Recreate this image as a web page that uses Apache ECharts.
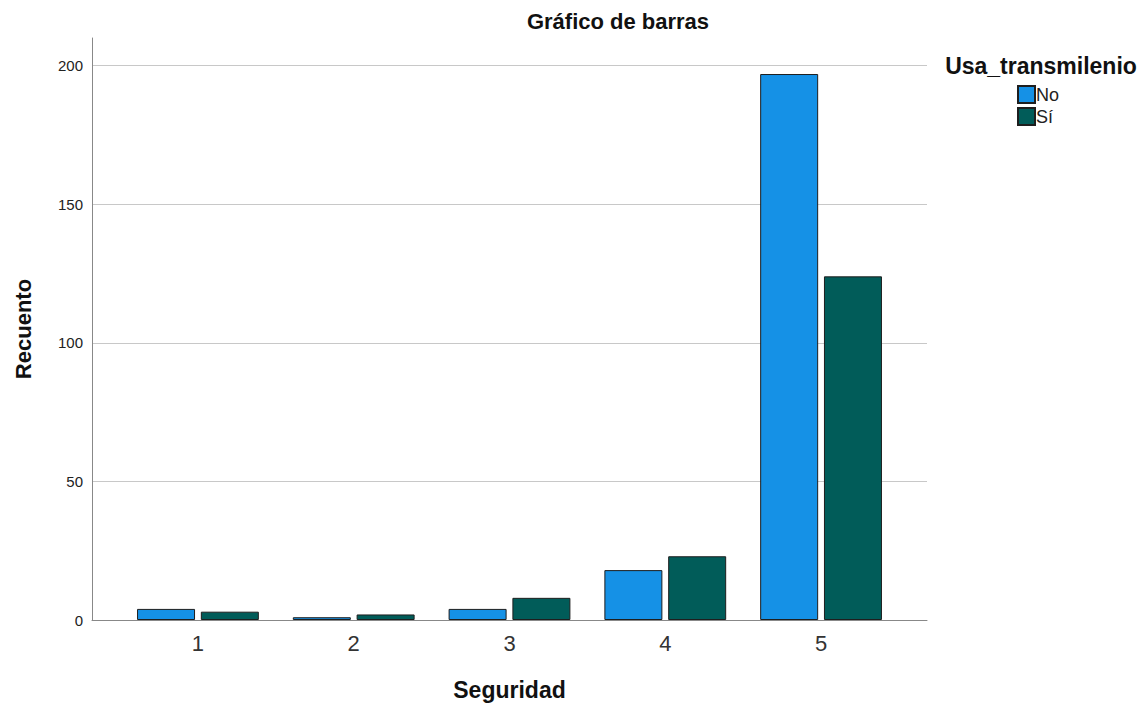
<!DOCTYPE html>
<html>
<head>
<meta charset="utf-8">
<script src="https://cdn.jsdelivr.net/npm/echarts@6/dist/echarts.min.js"></script>
<style>html,body{margin:0;padding:0;background:#fff}#c{width:1139px;height:710px}</style>
</head>
<body>
<div id="c"></div>
<script>
const categories = [1, 2, 3, 4, 5];
const seriesNames = ['No', 'Sí'];
const valuesNo = [4, 1, 4, 18, 197];
const valuesSi = [3, 2, 8, 23, 124];
const yTicks = [0, 50, 100, 150, 200];

const FONT = '"Liberation Sans", Arial, sans-serif';
const chart = echarts.init(document.getElementById('c'), null, {renderer: 'svg'});
chart.setOption({
  backgroundColor: '#ffffff',
  animation: false,
  title: [
    {text: 'Gráfico de barras', left: 613, top: 5, textAlign: 'center',
     textStyle: {fontFamily: FONT, fontSize: 22, fontWeight: 'bold', color: '#111'}},
    {text: 'Usa_transmilenio', left: 1036, top: 49, textAlign: 'center',
     textStyle: {fontFamily: FONT, fontSize: 23, fontWeight: 'bold', color: '#111'}}
  ],
  legend: {
    data: seriesNames, orient: 'vertical', left: 1012, top: 80,
    itemWidth: 17, itemHeight: 17, itemGap: 3, icon: 'rect',
    textStyle: {fontFamily: FONT, fontSize: 18, color: '#222', padding: [0,0,0,-4]}
  },
  grid: {left: 92, right: 212, top: 38, bottom: 90, containLabel: false},
  xAxis: {
    type: 'value', min: 0.32, max: 5.68,
    name: 'Seguridad', nameLocation: 'middle', nameGap: 58,
    nameTextStyle: {fontFamily: FONT, fontSize: 23, fontWeight: 'bold', color: '#111', verticalAlign: 'top'},
    axisLine: {show: true, lineStyle: {color: '#888', width: 1}},
    axisTick: {show: false},
    splitLine: {show: false},
    axisLabel: {customValues: categories, formatter: v => String(v), margin: 12,
      fontFamily: FONT, fontSize: 22, color: '#333'}
  },
  yAxis: {
    type: 'value', min: 0, max: 210, interval: 50,
    name: 'Recuento', nameLocation: 'middle', nameGap: 58,
    nameTextStyle: {fontFamily: FONT, fontSize: 22, fontWeight: 'bold', color: '#111'},
    axisLine: {show: true, lineStyle: {color: '#888', width: 1}},
    axisTick: {show: false},
    axisLabel: {customValues: yTicks, margin: 9, fontFamily: FONT, fontSize: 15, color: '#222'},
    splitLine: {show: true, showMinLine: false, showMaxLine: false, lineStyle: {color: '#c8c8c8', width: 1}}
  },
  series: [
    {name: seriesNames[0], type: 'bar', barWidth: 58, barGap: '10%',
     data: categories.map((c, i) => [c, valuesNo[i]]),
     itemStyle: {color: '#1591e6', borderColor: '#1e1e1e', borderWidth: 1}},
    {name: seriesNames[1], type: 'bar', barWidth: 58, barGap: '10%',
     data: categories.map((c, i) => [c, valuesSi[i]]),
     itemStyle: {color: '#015c59', borderColor: '#1e1e1e', borderWidth: 1}}
  ]
});
</script>
</body>
</html>
